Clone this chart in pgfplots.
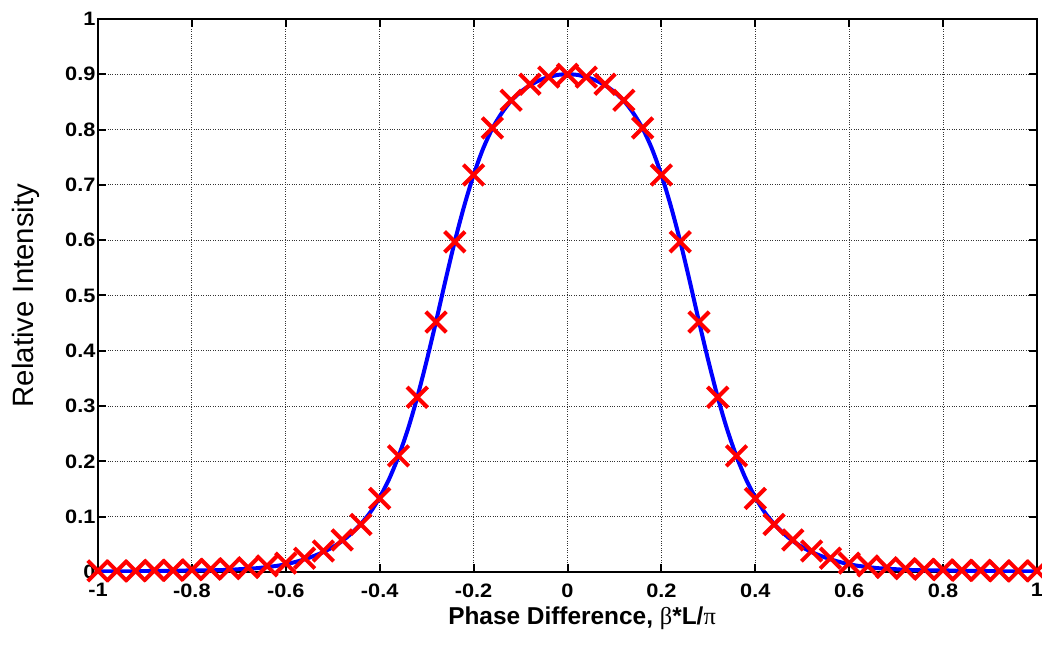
\documentclass[border=0pt]{standalone}
\usepackage{fontspec}
\setmainfont{Liberation Sans}
\newfontfamily\symb{Liberation Serif}
\newfontfamily\tickfont[FakeStretch=1.12]{Liberation Sans}
\usepackage{pgfplots}
\pgfplotsset{compat=1.18}
\pgfplotstableread{
x y
-1.00 0.001
-0.94 0.001
-0.88 0.002
-0.84 0.002
-0.80 0.003
-0.76 0.003
-0.72 0.004
-0.70 0.005
-0.68 0.006
-0.66 0.007
-0.64 0.009
-0.62 0.011
-0.60 0.014
-0.58 0.018
-0.56 0.023
-0.54 0.029
-0.52 0.036
-0.50 0.045
-0.48 0.056
-0.46 0.070
-0.44 0.087
-0.42 0.108
-0.40 0.135
-0.38 0.168
-0.36 0.209
-0.34 0.258
-0.32 0.316
-0.30 0.382
-0.28 0.453
-0.26 0.527
-0.24 0.598
-0.22 0.662
-0.20 0.718
-0.18 0.765
-0.16 0.802
-0.14 0.830
-0.12 0.852
-0.10 0.868
-0.08 0.880
-0.06 0.889
-0.04 0.895
-0.02 0.899
0.00 0.900
0.02 0.899
0.04 0.895
0.06 0.889
0.08 0.880
0.10 0.868
0.12 0.852
0.14 0.830
0.16 0.802
0.18 0.765
0.20 0.718
0.22 0.662
0.24 0.598
0.26 0.527
0.28 0.453
0.30 0.382
0.32 0.316
0.34 0.258
0.36 0.209
0.38 0.168
0.40 0.135
0.42 0.108
0.44 0.087
0.46 0.070
0.48 0.056
0.50 0.045
0.52 0.036
0.54 0.029
0.56 0.023
0.58 0.018
0.60 0.014
0.62 0.011
0.64 0.009
0.66 0.007
0.68 0.006
0.70 0.005
0.72 0.004
0.76 0.003
0.80 0.003
0.84 0.002
0.88 0.002
0.94 0.001
1.00 0.001
}\theory
\pgfplotstableread{
x y
-1.00 0.002
-0.96 0.002
-0.92 0.002
-0.88 0.003
-0.84 0.003
-0.80 0.004
-0.76 0.005
-0.72 0.006
-0.68 0.008
-0.64 0.011
-0.60 0.016
-0.56 0.025
-0.52 0.038
-0.48 0.058
-0.44 0.086
-0.40 0.133
-0.36 0.210
-0.32 0.316
-0.28 0.452
-0.24 0.597
-0.20 0.718
-0.16 0.803
-0.12 0.853
-0.08 0.882
-0.04 0.895
0.00 0.900
0.04 0.895
0.08 0.882
0.12 0.853
0.16 0.803
0.20 0.718
0.24 0.597
0.28 0.452
0.32 0.316
0.36 0.210
0.40 0.133
0.44 0.086
0.48 0.058
0.52 0.038
0.56 0.025
0.60 0.016
0.64 0.011
0.68 0.008
0.72 0.006
0.76 0.005
0.80 0.004
0.84 0.003
0.88 0.003
0.92 0.002
0.96 0.002
1.00 0.002
}\measured
\begin{document}
\begin{tikzpicture}
\begin{axis}[name=ax,
  scale only axis, width=939bp, height=553bp,
  xmin=-1, xmax=1, ymin=0, ymax=1,
  xtick={-1,-0.8,-0.6,-0.4,-0.2,0,0.2,0.4,0.6,0.8,1},
  xticklabels={-1,-0.8,-0.6,-0.4,-0.2,0,0.2,0.4,0.6,0.8,1},
  ytick={0,0.1,0.2,0.3,0.4,0.5,0.6,0.7,0.8,0.9,1},
  yticklabels={0,0.1,0.2,0.3,0.4,0.5,0.6,0.7,0.8,0.9,1},
  tick label style={font=\tickfont\fontsize{19.5}{23}\selectfont\bfseries},
  xticklabel style={yshift=-8bp},
  yticklabel style={xshift=1bp},
  grid=major,
  grid style={dotted, line width=0.9bp, black!80},
  axis line style={line width=2bp},
  tick style={line width=2bp, black},
  major tick length=8bp,
  tick align=inside,
  clip mode=individual,
  xlabel={\bfseries Phase Difference, {\symb\mdseries β}*L/{\symb\mdseries π}},
  xlabel style={font=\fontsize{24.5}{29}\selectfont, at={(axis description cs:0.5155,-0.0958)}, anchor=base},
  ylabel={Relative Intensity},
  ylabel style={font=\fontsize{29.5}{34}\selectfont, at={(axis description cs:-0.069,0.5)}, anchor=base},
]
\addplot[blue, line width=4bp, smooth, no marks] table[x=x,y=y] {\theory};
\addplot[red, only marks, mark=x, mark size=14.5bp, mark options={line width=4bp}] table[x=x,y=y] {\measured};
\end{axis}
\pgfresetboundingbox
\path ([shift={(-98bp,-74bp)}]ax.south west) rectangle ([shift={(5bp,19bp)}]ax.north east);
\end{tikzpicture}
\end{document}
